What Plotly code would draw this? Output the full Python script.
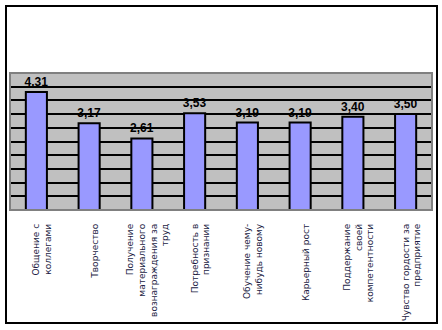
import plotly.graph_objects as go

# Motivation factors and their mean scores
categories = [
    "Общение с<br>коллегами",
    "Творчество",
    "Получение<br>материального<br>вознаграждения за<br>труд",
    "Потребность в<br>признании",
    "Обучение чему-<br>нибудь новому",
    "Карьерный рост",
    "Поддержание<br>своей<br>компетентности",
    "Чувство гордости за<br>предприятие",
]
scores = [4.31, 3.17, 2.61, 3.53, 3.19, 3.19, 3.40, 3.50]

W, H = 442, 330
ML, MR, MT, MB = 10, 10, 73, 120
PW, PH = W - ML - MR, H - MT - MB

def px_x(x):
    return (x - ML) / PW

def px_y(y):
    return (H - MB - y) / PH

fig = go.Figure(
    go.Bar(
        x=list(range(len(categories))),
        y=scores,
        marker=dict(color="#9999FF", line=dict(color="#000000", width=2)),
        width=0.4,
        texttemplate="%{y:.2f}",
        textposition="outside",
        constraintext="none",
        cliponaxis=False,
        textfont=dict(family="Liberation Sans, Arial", size=12, color="#000000", weight="bold"),
    )
)

fig.update_layout(
    width=W,
    height=H,
    margin=dict(l=ML, r=MR, t=MT, b=MB, pad=0),
    paper_bgcolor="#FFFFFF",
    plot_bgcolor="#C0C0C0",
    separators=", ",
    showlegend=False,
    xaxis=dict(
        tickmode="array",
        tickvals=list(range(len(categories))),
        ticktext=categories,
        tickangle=-90,
        range=[-0.5, len(categories) - 0.5],
        showgrid=False,
        zeroline=False,
        showline=False,
        ticks="",
        ticklabelstandoff=11,
        ticklabelshift=6,
        tickfont=dict(family="DejaVu Sans", size=9, color="#1C1C44"),
    ),
    yaxis=dict(
        range=[0, 5],
        dtick=0.5,
        showgrid=True,
        gridcolor="#000000",
        gridwidth=1.5,
        zeroline=False,
        showline=False,
        showticklabels=False,
        ticks="",
    ),
    shapes=[
        # plot area border
        dict(type="rect", xref="paper", yref="paper", x0=0, x1=1, y0=0, y1=1,
             line=dict(color="#808080", width=2), layer="above"),
        # chart frame
        dict(type="rect", xref="paper", yref="paper",
             x0=px_x(6), x1=px_x(437), y0=px_y(323), y1=px_y(6),
             line=dict(color="#000000", width=2), layer="above"),
    ],
)

fig.write_html("out.html")
